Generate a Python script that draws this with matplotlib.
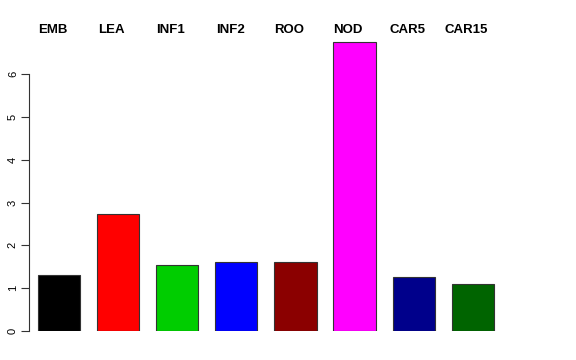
import matplotlib
matplotlib.use("Agg")
import matplotlib.pyplot as plt
import numpy as np

plt.rcParams['font.family'] = ['Liberation Sans', 'DejaVu Sans']

categories = ["EMB", "LEA", "INF1", "INF2", "ROO", "NOD", "CAR5", "CAR15"]
values = [1.31, 2.74, 1.54, 1.61, 1.60, 6.74, 1.27, 1.10]
colors = ["#000000", "#FF0000", "#00CD00", "#0000FF", "#8B0000", "#FF00FF", "#00008B", "#006400"]
yticks = [0, 1, 2, 3, 4, 5, 6]

fig = plt.figure(figsize=(5.76, 3.6), dpi=100)
px_unit_y = 42.83
px_unit_x = 42.2
ax = fig.add_axes([29 / 576, 29 / 360, 518 / 576, 7 * px_unit_y / 360])

x = np.arange(len(categories)) * 1.4
ax.bar(x, values, width=1.0, color=colors, edgecolor="#333333", linewidth=0.8)

ax.set_xlim(-0.714, -0.714 + 518 / px_unit_x)
ax.set_ylim(0, 7)

for xi, name in zip(x, categories):
    ax.text(xi - 0.15, 7.03, name, ha="center", va="center",
            fontsize=9.5, fontweight="bold", clip_on=False)

ax.spines[["top", "right", "bottom"]].set_visible(False)
ax.spines["left"].set_bounds(0, 6)
ax.spines["left"].set_color("#333333")
ax.set_yticks(yticks)
ax.set_yticklabels([str(t) for t in yticks], rotation=90, va="center", fontsize=8)
ax.tick_params(axis="y", length=6, width=0.8, color="#333333", pad=2)
ax.set_xticks([])

fig.savefig("out.png", dpi=100)
